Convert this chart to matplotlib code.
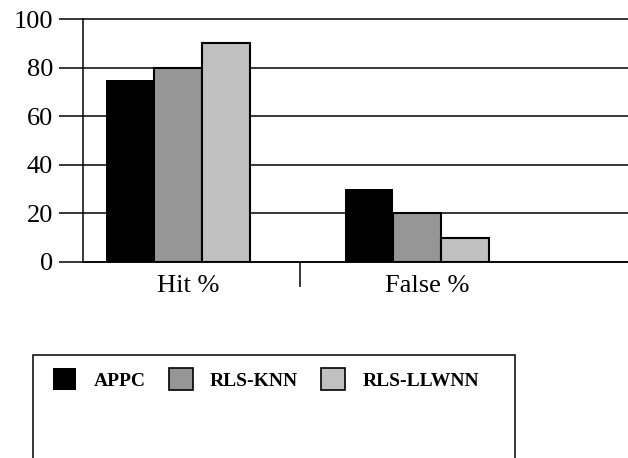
import matplotlib
matplotlib.use("Agg")
import matplotlib.pyplot as plt
import matplotlib.transforms as mtransforms
from matplotlib.patches import Patch, Rectangle
import numpy as np

categories = ["Hit %", "False %"]
series_names = ["APPC", "RLS-KNN", "RLS-LLWNN"]
appc = [75, 30]
rls_knn = [80, 20]
rls_llwnn = [90, 10]
y_ticks = [0, 20, 40, 60, 80, 100]

colors = ["#000000", "#969696", "#c0c0c0"]
serif = ["Liberation Serif", "DejaVu Serif"]

fig = plt.figure(figsize=(6.28, 4.58), dpi=100)
ax = fig.add_axes([83 / 628, 1 - 262 / 458, 545 / 628, 243 / 458])

x = np.arange(len(categories))
width = 0.2
for i, (vals, name, col) in enumerate(zip([appc, rls_knn, rls_llwnn], series_names, colors)):
    ax.bar(x + (i - 1) * width, vals, width, color=col,
           edgecolor="black", linewidth=1.5 if i else 0.0, label=name, zorder=3)

ax.set_ylim(0, 100)
ax.set_xlim(-0.3975, 1.883)
ax.set_yticks(y_ticks)
ax.set_yticklabels([str(v) for v in y_ticks], fontfamily=serif, fontsize=19)
ax.tick_params(axis="y", direction="out", length=17.5, width=1.1, pad=4)

ax.set_xticks(x)
ax.set_xticklabels(categories, fontfamily=serif, fontsize=19)
ax.tick_params(axis="x", which="major", length=0, pad=9)
shift = mtransforms.ScaledTranslation(10 / 100, 0, fig.dpi_scale_trans)
for lbl in ax.get_xticklabels():
    lbl.set_transform(lbl.get_transform() + shift)

# divider tick between the two category groups
ax.set_xticks([0.51], minor=True)
ax.tick_params(axis="x", which="minor", direction="out", length=18, width=1.1)

ax.yaxis.grid(True, color="black", linewidth=1.1)
for gl in ax.get_ygridlines():
    gl.set_clip_on(False)
ax.set_axisbelow(True)

for side in ("top", "right"):
    ax.spines[side].set_visible(False)
ax.spines["left"].set_linewidth(1.1)
ax.spines["bottom"].set_linewidth(1.1)

# legend box
fig.patches.append(Rectangle((33 / 628, -0.2), 482 / 628, 0.2 + (1 - 355 / 458),
                             transform=fig.transFigure, fill=False,
                             edgecolor="black", linewidth=1.1))
handles = [Patch(facecolor=c, edgecolor="black", linewidth=1.2 if i else 0.0)
           for i, c in enumerate(colors)]
fig.legend(handles, series_names, loc="upper left",
           bbox_to_anchor=(53 / 628, 1 - 368 / 458), ncol=3, frameon=False,
           borderpad=0, borderaxespad=0, handlelength=1.2, handleheight=1.4,
           handletextpad=0.9, columnspacing=1.2,
           prop={"family": serif, "weight": "bold", "size": 14})

fig.savefig("out.png", dpi=100)
